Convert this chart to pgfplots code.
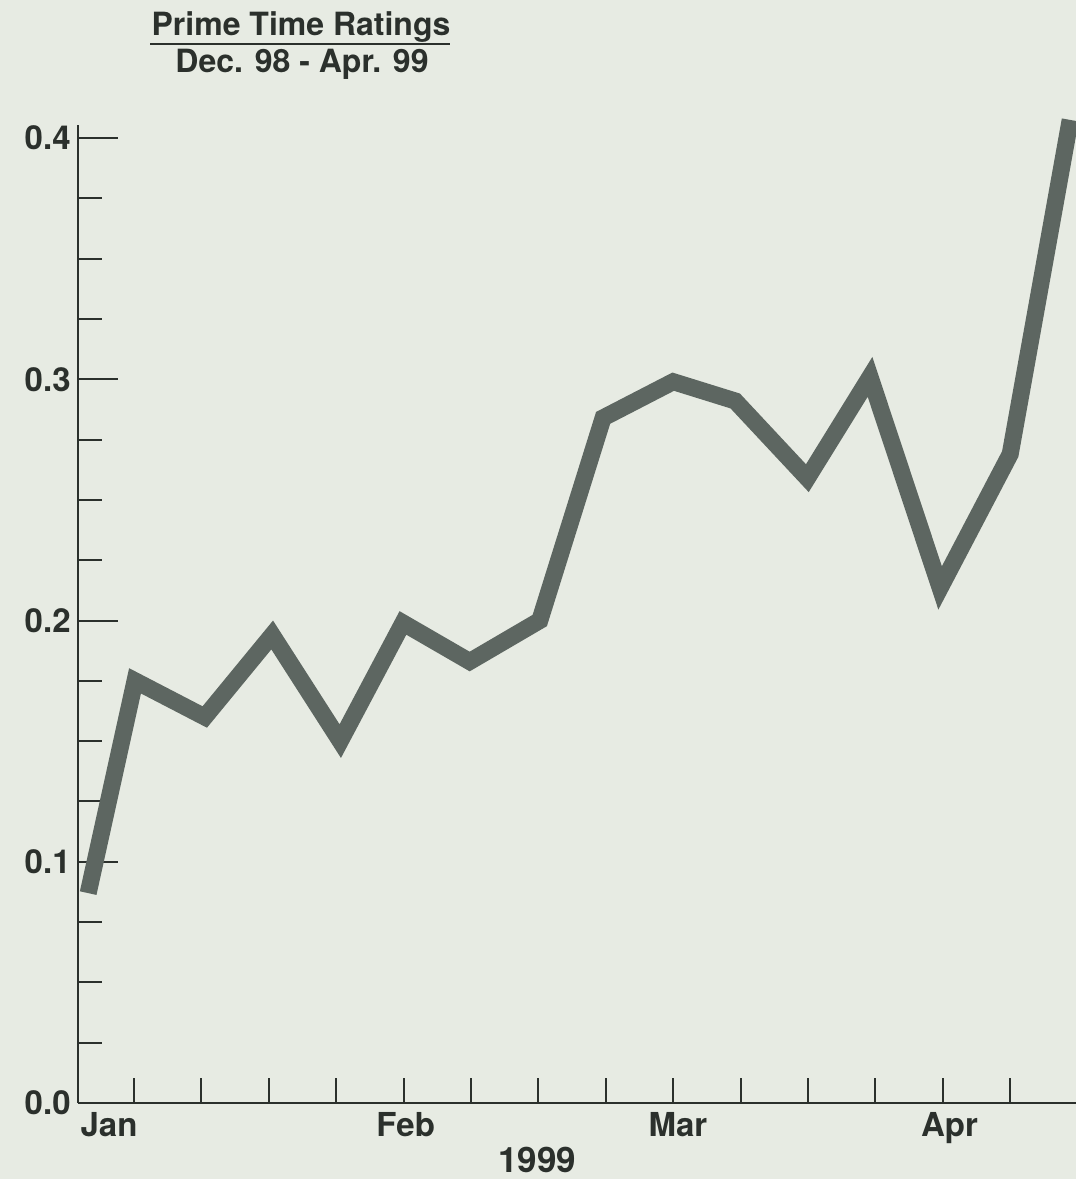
\documentclass[border=0pt]{standalone}
\usepackage{fontspec}
\setmainfont{TeX Gyre Heros}
\usepackage{pgfplots}
\pgfplotsset{compat=1.18}
\definecolor{bg}{HTML}{E7EBE3}
\definecolor{ink}{HTML}{2B302C}
\definecolor{linec}{HTML}{5D6661}
\begin{document}
\begin{tikzpicture}
\fill[bg] (0,0) rectangle (538pt,589.5pt);
\useasboundingbox (0,0) rectangle (538pt,589.5pt);
\begin{axis}[
  at={(39pt,38pt)}, anchor=south west,
  scale only axis, width=499pt, height=489pt,
  xmin=0.169, xmax=14.976, ymin=0, ymax=0.4054,
  axis x line*=bottom, axis y line*=left,
  axis line style={ink, line width=1.3pt, -},
  ytick={0,0.1,0.2,0.3,0.4},
  minor y tick num=3,
  xtick={1,2,3,4,5,6,7,8,9,10,11,12,13,14},
  xticklabels={},
  extra x ticks={0.63,5.03,9.07,13.1},
  extra x tick labels={Jan,Feb,Mar,Apr},
  extra x tick style={major tick length=0pt},
  extra y ticks={0,0.1,0.2,0.3,0.4},
  extra y tick labels={},
  extra y tick style={major tick length=20pt},
  tick align=inside,
  major tick length=12.5pt, minor tick length=12pt,
  tick style={ink, line width=1pt},
  /pgf/number format/assume math mode=true,
  yticklabel style={/pgf/number format/fixed, /pgf/number format/fixed zerofill, /pgf/number format/precision=1, inner sep=0pt, xshift=-3.5pt},
  xticklabel style={inner sep=0pt, yshift=-4.5pt},
  ticklabel style={font=\bfseries\fontsize{16.5}{19}\selectfont, text=ink},
  xlabel={1999},
  xlabel style={at={(rel axis cs:0.46,0)}, anchor=north, yshift=-22pt, inner sep=0pt, font=\bfseries\fontsize{17.5}{20}\selectfont, text=ink},
  clip=false,
]
\addplot[linec, line width=8.5pt, line join=miter, line cap=butt] coordinates {
(0.32,0.087)
(1.015,0.175)
(2.05,0.160)
(3.05,0.194)
(4.06,0.150)
(4.99,0.199)
(5.98,0.183)
(7.02,0.200)
(7.96,0.284)
(9.0,0.299)
(9.92,0.291)
(10.99,0.259)
(11.92,0.301)
(12.96,0.2135)
(14.0,0.269)
(14.89,0.4075)
};
\end{axis}
\node[font=\bfseries\fontsize{16}{19}\selectfont, text=ink] at (150.5pt,576pt) {Prime Time Ratings};
\draw[ink, line width=1pt] (75pt,567.5pt) -- (225pt,567.5pt);
\node[font=\bfseries\fontsize{16}{19}\selectfont, text=ink] at (151pt,557.5pt) {Dec. 98 - Apr. 99};
\end{tikzpicture}
\end{document}
